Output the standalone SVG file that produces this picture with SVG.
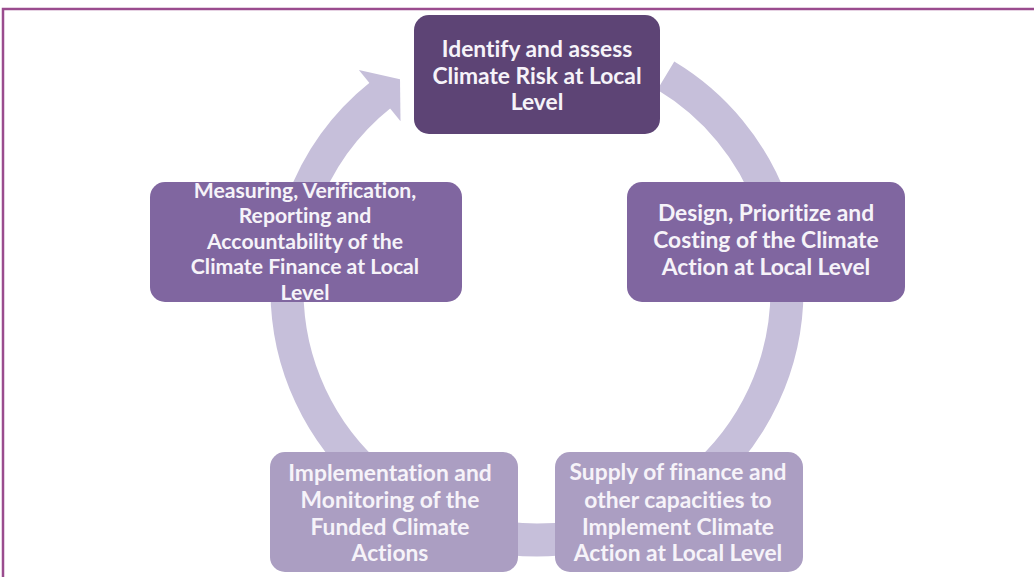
<svg xmlns="http://www.w3.org/2000/svg" width="1034" height="577" viewBox="0 0 1034 577">
<style>
.ring{fill:none;stroke:#c6bfda;stroke-width:33;stroke-linecap:butt}
.head{fill:#c6bfda}
.lbl{font-family:Lato,"Liberation Sans",sans-serif;font-weight:bold;font-size:22.8px;fill:#f6f3f9;text-anchor:middle;font-variant-ligatures:none}
.tight{font-size:21.2px}
.dark{fill:#5d4475}
.mid{fill:#8066a0}
.light{fill:#ab9ec2}
</style>
<rect width="1034" height="577" fill="#ffffff"/>
<path d="M3 577 V9 H1034" fill="none" stroke="#9a4c8e" stroke-width="2.5"/>
<g id="connectors">
<path class="ring" d="M665.8 75.7 A250 250 0 0 1 772 204.5"/>
<path class="ring" d="M787 290 A250 250 0 0 1 697.7 481.5"/>
<path class="ring" d="M580.4 536.2 A250 250 0 0 1 493.6 536.2"/>
<path class="ring" d="M376.3 481.5 A250 250 0 0 1 287 290"/>
<path class="ring" d="M302 204.5 A250 250 0 0 1 381 94.6"/>
<polygon class="head" points="358.9,70.1 400.5,121.3 400,79.3"/>
</g>
<g id="node-identify">
<rect class="dark" x="414" y="15" width="246" height="119" rx="15"/>
<text class="lbl" x="537" y="57">Identify and assess</text>
<text class="lbl" x="537" y="84">Climate Risk at Local</text>
<text class="lbl" x="537" y="110">Level</text>
</g>
<g id="node-design">
<rect class="mid" x="627" y="182" width="278" height="120" rx="15"/>
<text class="lbl" x="766" y="221">Design, Prioritize and</text>
<text class="lbl" x="766" y="248">Costing of the Climate</text>
<text class="lbl" x="766" y="275">Action at Local Level</text>
</g>
<g id="node-supply">
<rect class="light" x="555" y="452" width="248" height="120" rx="15"/>
<text class="lbl" x="678" y="480">Supply of finance and</text>
<text class="lbl" x="678" y="508">other capacities to</text>
<text class="lbl" x="678" y="535">Implement Climate</text>
<text class="lbl" x="678" y="561">Action at Local Level</text>
</g>
<g id="node-implementation">
<rect class="light" x="270" y="452" width="248" height="120" rx="15"/>
<text class="lbl" x="390" y="481">Implementation and</text>
<text class="lbl" x="390" y="508">Monitoring of the</text>
<text class="lbl" x="390" y="535">Funded Climate</text>
<text class="lbl" x="390" y="561">Actions</text>
</g>
<g id="node-measuring">
<rect class="mid" x="150" y="182" width="312" height="120" rx="15"/>
<text class="lbl tight" x="305" y="197.5">Measuring, Verification,</text>
<text class="lbl tight" x="305" y="223">Reporting and</text>
<text class="lbl tight" x="305" y="248.5">Accountability of the</text>
<text class="lbl tight" x="305" y="274">Climate Finance at Local</text>
<text class="lbl tight" x="305" y="299.5">Level</text>
</g>
</svg>
